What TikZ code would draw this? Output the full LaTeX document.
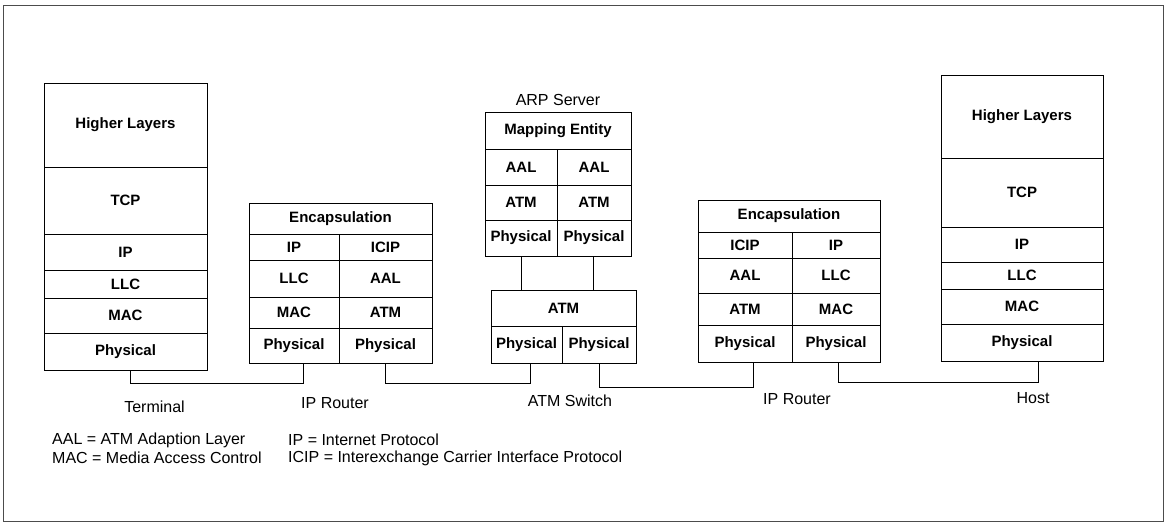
\documentclass[tikz,border=0pt]{standalone}
\usepackage{fontspec}
\setmainfont{Liberation Sans}
\usetikzlibrary{calc}
\tikzset{
  cell/.style={draw, line width=0.9pt, inner sep=0pt, outer sep=0pt,
    font=\bfseries\fontsize{15}{18}\selectfont},
  lbl/.style={inner sep=0pt, font=\fontsize{16}{19}\selectfont},
  legend/.style={inner sep=0pt, anchor=west, font=\fontsize{16}{19}\selectfont},
  wire/.style={draw, line width=0.9pt},
  frame/.style={draw=black!70, line width=0.8pt}
}
\begin{document}
\begin{tikzpicture}[x=1pt,y=-1pt]
\useasboundingbox (0,0) rectangle (1165,522);
\draw[frame] (3,5) rectangle (1163,521);

% Terminal
\node[cell, minimum width=163, minimum height=84] (tH) at (125.5,125) {Higher Layers};
\node[cell, minimum width=163, minimum height=67] (tT) at (125.5,200.5) {TCP};
\node[cell, minimum width=163, minimum height=36] (tI) at (125.5,252) {IP};
\node[cell, minimum width=163, minimum height=28] (tL) at (125.5,284) {LLC};
\node[cell, minimum width=163, minimum height=35] (tM) at (125.5,315.5) {MAC};
\node[cell, minimum width=163, minimum height=37] (tP) at (125.5,351.5) {Physical};
\node[lbl] (tlab) at (154.5,407) {Terminal};

% IP Router 1
\node[cell, minimum width=183, minimum height=31] (aE) at (340.5,218.5) {Encapsulation};
\node[cell, minimum width=90, minimum height=26] (aIL) at (294,247) {IP};
\node[cell, minimum width=93, minimum height=26] (aIR) at (385.5,247) {ICIP};
\node[cell, minimum width=90, minimum height=37] (aLL) at (294,278.5) {LLC};
\node[cell, minimum width=93, minimum height=37] (aLR) at (385.5,278.5) {AAL};
\node[cell, minimum width=90, minimum height=31] (aML) at (294,312.5) {MAC};
\node[cell, minimum width=93, minimum height=31] (aMR) at (385.5,312.5) {ATM};
\node[cell, minimum width=90, minimum height=35] (aPL) at (294,345.5) {Physical};
\node[cell, minimum width=93, minimum height=35] (aPR) at (385.5,345.5) {Physical};
\node[lbl] (alab) at (335,403) {IP Router};

% ARP Server
\node[lbl, font=\fontsize{16}{19}\selectfont] (slab) at (558,100) {ARP Server};
\node[cell, minimum width=146, minimum height=37] (sE) at (558,130.5) {Mapping Entity};
\node[cell, minimum width=72, minimum height=36] (sAL) at (521,167) {AAL};
\node[cell, minimum width=74, minimum height=36] (sAR) at (594,167) {AAL};
\node[cell, minimum width=72, minimum height=35] (sTL) at (521,202.5) {ATM};
\node[cell, minimum width=74, minimum height=35] (sTR) at (594,202.5) {ATM};
\node[cell, minimum width=72, minimum height=36] (sPL) at (521,238) {Physical};
\node[cell, minimum width=74, minimum height=36] (sPR) at (594,238) {Physical};

% ATM Switch
\node[cell, minimum width=145, minimum height=36] (wA) at (563.5,308) {ATM};
\node[cell, minimum width=71, minimum height=37] (wPL) at (526.5,344.5) {Physical};
\node[cell, minimum width=74, minimum height=37] (wPR) at (599,344.5) {Physical};
\node[lbl] (wlab) at (570,401) {ATM Switch};

% IP Router 2
\node[cell, minimum width=182, minimum height=32] (bE) at (789,216) {Encapsulation};
\node[cell, minimum width=94, minimum height=26] (bIL) at (745,245) {ICIP};
\node[cell, minimum width=88, minimum height=26] (bIR) at (836,245) {IP};
\node[cell, minimum width=94, minimum height=35] (bLL) at (745,275.5) {AAL};
\node[cell, minimum width=88, minimum height=35] (bLR) at (836,275.5) {LLC};
\node[cell, minimum width=94, minimum height=32] (bML) at (745,309) {ATM};
\node[cell, minimum width=88, minimum height=32] (bMR) at (836,309) {MAC};
\node[cell, minimum width=94, minimum height=37] (bPL) at (745,343.5) {Physical};
\node[cell, minimum width=88, minimum height=37] (bPR) at (836,343.5) {Physical};
\node[lbl] (blab) at (797,399) {IP Router};

% Host
\node[cell, minimum width=162, minimum height=83] (hH) at (1022,116.5) {Higher Layers};
\node[cell, minimum width=162, minimum height=69] (hT) at (1022,192.5) {TCP};
\node[cell, minimum width=162, minimum height=35] (hI) at (1022,244.5) {IP};
\node[cell, minimum width=162, minimum height=27] (hL) at (1022,275.5) {LLC};
\node[cell, minimum width=162, minimum height=35] (hM) at (1022,306.5) {MAC};
\node[cell, minimum width=162, minimum height=37] (hP) at (1022,342.5) {Physical};
\node[lbl] (hlab) at (1033,398) {Host};

% Connectors
\draw[wire] ($(tP.south)+(4.5,0)$) -- ++(0,13) -| ($(aPL.south)+(9,0)$);
\draw[wire] (aPR.south) -- ++(0,20) -| ($(wPL.south)+(3.5,0)$);
\draw[wire] (sPL.south) -- (sPL.south |- wA.north);
\draw[wire] ($(sPR.south)+(-1,0)$) -- ($(sPR.south |- wA.north)+(-1,0)$);
\draw[wire] (wPR.south) -- ++(0,24) -| ($(bPL.south)+(8,0)$);
\draw[wire] ($(bPR.south)+(2,0)$) -- ++(0,20) -| ($(hP.south)+(16,0)$);

% Legend
\node[legend] (g1) at (52,440) {AAL = ATM Adaption Layer};
\node[legend] (g2) at (288,440) {IP = Internet Protocol};
\node[legend] (g3) at (52,458) {MAC = Media Access Control};
\node[legend] (g4) at (288,458) {ICIP = Interexchange Carrier Interface Protocol};
\end{tikzpicture}
\end{document}
